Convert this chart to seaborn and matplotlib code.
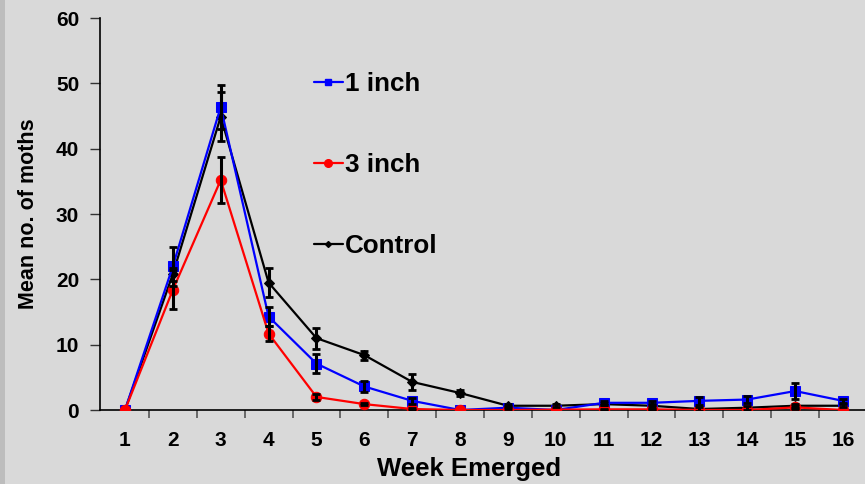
import numpy as np
import pandas as pd
import matplotlib
matplotlib.use("Agg")
import matplotlib.pyplot as plt
import seaborn as sns
from matplotlib.lines import Line2D
from matplotlib.patches import Rectangle

# Weekly emergence of moths by treatment
weeks = list(range(1, 17))
one_inch = [0, 22.0, 46.4, 14.3, 7.1, 3.6, 1.4, 0.0, 0.35, 0.0, 1.1, 1.1, 1.4, 1.6, 2.9, 1.4]
three_inch = [0, 18.4, 35.2, 11.7, 2.0, 0.9, 0.15, 0.0, 0.0, 0.05, 0.1, 0.1, 0.0, 0.0, 0.4, 0.0]
control = [0, 20.8, 44.9, 19.5, 11.0, 8.4, 4.3, 2.6, 0.65, 0.65, 0.9, 0.65, 0.15, 0.35, 0.65, 0.65]

# Standard errors
one_inch_se = [0, 3.0, 3.4, 1.5, 1.4, 0.9, 0.5, 0.0, 0.2, 0.0, 0.3, 0.3, 0.6, 0.6, 1.2, 0.3]
three_inch_se = [0, 3.0, 3.5, 1.2, 0.5, 0.2, 0.1, 0.0, 0.0, 0.0, 0.1, 0.1, 0.0, 0.0, 0.2, 0.0]
control_se = [0, 1.0, 3.8, 2.2, 1.6, 0.7, 1.2, 0.5, 0.2, 0.2, 0.2, 0.2, 0.3, 0.3, 0.3, 0.2]

series = ["1 inch", "3 inch", "Control"]
colors = {"1 inch": "#0000FF", "3 inch": "#FF0000", "Control": "#000000"}
markers = {"1 inch": "s", "3 inch": "o", "Control": "D"}
msizes = {"1 inch": 7, "3 inch": 7.5, "Control": 5}

df = pd.DataFrame({
    "week": weeks * 3,
    "pos": list(range(16)) * 3,
    "value": one_inch + three_inch + control,
    "se": one_inch_se + three_inch_se + control_se,
    "group": ["1 inch"] * 16 + ["3 inch"] * 16 + ["Control"] * 16,
})

sns.set_theme(style="ticks")
bg = "#D9D9D9"
plt.rcParams["font.family"] = ["Liberation Sans", "DejaVu Sans"]
plt.rcParams["font.weight"] = "bold"
for key in ["text.color", "axes.labelcolor", "xtick.color", "ytick.color"]:
    plt.rcParams[key] = "black"

fig = plt.figure(figsize=(8.65, 4.84), dpi=100, facecolor=bg)
ax = fig.add_axes([100 / 865, 74 / 484, 765 / 865, 392 / 484])
ax.set_facecolor(bg)
fig.patches.append(Rectangle((0, 0), 5 / 865, 1, transform=fig.transFigure,
                             facecolor="#BDBDBD", edgecolor="none", zorder=0))

for name in ["Control", "1 inch", "3 inch"]:
    sub = df[df["group"] == name]
    sns.lineplot(data=sub, x="pos", y="value", ax=ax, color=colors[name],
                 marker=markers[name], markersize=msizes[name],
                 markeredgecolor=colors[name], linewidth=1.6,
                 errorbar=None, legend=False, zorder=3)

for name in ["Control", "1 inch", "3 inch"]:
    sub = df[(df["group"] == name) & (df["se"] > 0)]
    ax.errorbar(sub["pos"], sub["value"], yerr=sub["se"], fmt="none",
                ecolor="black", elinewidth=2.2, capsize=3, capthick=2, zorder=4)

ax.set_xlim(-0.522, 15.46)
ax.set_ylim(0, 60)
ax.set_yticks(np.arange(0, 61, 10))
ax.set_xticks(np.arange(16))
ax.set_xticklabels([str(w) for w in weeks], fontsize=15, fontweight="bold")
ax.set_xticks(np.arange(0.5, 15.5, 1), minor=True)
ax.tick_params(axis="x", which="major", length=0, pad=15)
ax.tick_params(axis="x", which="minor", bottom=True, length=6, width=1.2,
               color="#555555", direction="out")
ax.tick_params(axis="y", left=True, length=7, width=1, color="#333333",
               direction="out", labelsize=15, pad=8)
for lab in ax.get_yticklabels():
    lab.set_fontweight("bold")

for s in ["top", "right"]:
    ax.spines[s].set_visible(False)
for s in ["left", "bottom"]:
    ax.spines[s].set_color("black")
    ax.spines[s].set_linewidth(1.2)

ax.set_xlabel("")
fig.text(469 / 865, 1 - 469 / 484, "Week Emerged", fontsize=18.5,
         fontweight="bold", ha="center", va="center")
ax.set_ylabel("Mean no. of moths", fontsize=15.5, fontweight="bold", labelpad=12)

handles = [Line2D([0], [0], color=colors[n], marker=markers[n],
                  markersize=msizes[n] - 2, linewidth=1.6) for n in series]
leg = ax.legend(handles, series, loc="upper left",
                bbox_to_anchor=(201 / 765, 0.895), frameon=False,
                prop={"family": ["Liberation Sans"], "weight": "bold", "size": 18.7},
                handlelength=1.1, handletextpad=0.1, labelspacing=2.2,
                borderpad=0)

fig.savefig("out.png", dpi=100, facecolor=bg)
